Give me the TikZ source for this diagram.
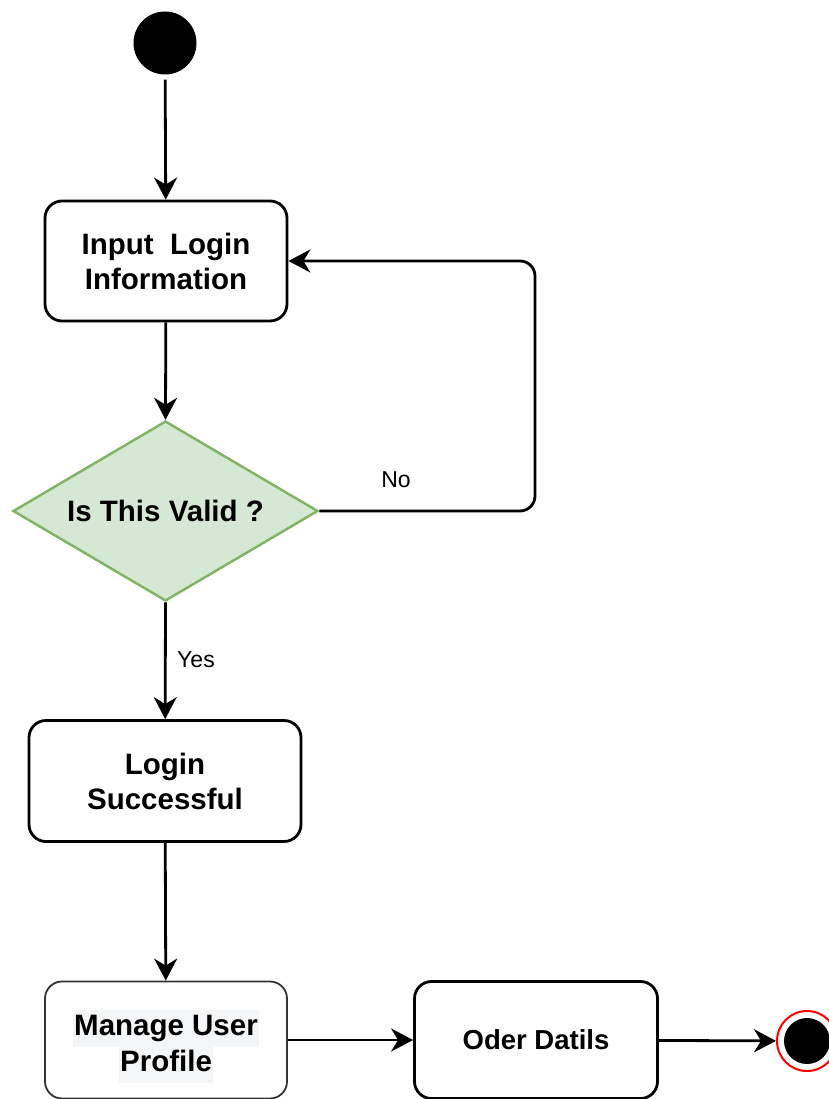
\documentclass[tikz,border=0pt]{standalone}
\usepackage{fontspec}
\setmainfont{Liberation Sans}
\usetikzlibrary{arrows.meta,shapes.geometric}
\definecolor{decfill}{HTML}{D5E8D4}
\definecolor{decedge}{HTML}{82B366}
\definecolor{hilite}{HTML}{F4F5F7}
\definecolor{inkgray}{HTML}{333333}

% one line of text with a faint highlight behind it
\newcommand{\hl}[1]{{\setlength{\fboxsep}{1pt}\colorbox{hilite}{\strut #1}}}

\begin{document}
\begin{tikzpicture}[x=1pt,y=-1pt,
  every node/.style={font=\fontsize{29.5}{35}\selectfont\bfseries, text=black},
  action/.style={draw, line width=2.8pt, rounded corners=17pt, align=center,
    inner sep=0pt},
  decision/.style={diamond, aspect=1.694, draw=decedge, fill=decfill, line width=2.5pt,
    inner sep=0pt, minimum width=305pt, minimum height=180pt},
  flow/.style={line width=2.8pt, -{Stealth[length=22pt, width=23pt, inset=7pt]}},
  guard/.style={font=\fontsize{23}{28}\selectfont}
]
\useasboundingbox (0,0) rectangle (828,1099);

% nodes
\node[circle, fill=black, minimum size=63pt, inner sep=0pt] (start) at (165,43) {};
\node[action, minimum width=242pt, minimum height=120pt] (input) at (166,261)
  {Input\ \ Login\\Information};
\node[decision] (valid) at (165.5,511) {Is This Valid ?};
\node[action, minimum width=272pt, minimum height=121pt] (ok) at (165,781)
  {Login\\Successful};
\node[action, draw=inkgray, line width=1.8pt, minimum width=242pt, minimum height=117pt]
  (profile) at (166,1040) {};
\node (profiletext) at ([yshift=-6pt]profile.center)
  {\setlength{\lineskip}{0pt}\shortstack{\hl{Manage User}\\[-4pt]\hl{Profile}}};
\node[action, minimum width=243pt, minimum height=117pt,
  font=\fontsize{27.5}{35}\selectfont\bfseries] (order) at (536,1040) {Oder Datils};
\node[circle, draw=red, line width=2pt, fill=white, minimum size=60pt, inner sep=0pt]
  (stop) at (807,1041) {};
\node[circle, fill=black, minimum size=46pt, inner sep=0pt] (stopdot) at (stop.center) {};

\coordinate (loop) at (535,261);

% connectors
\draw[flow, shorten <=5pt] (start) -- (input);
\draw[flow] (input) -- (valid.north);
\draw[flow, rounded corners=15pt] (valid.east) -| (loop) -- (input.east);
\draw[flow] (valid.south) -- (ok);
\draw[flow] (ok) -- (profile);
\draw[flow] (profile) -- (order);
\draw[flow] (order) -- (stop);

% guard labels
\node[guard] (no) at (396,480) {No};
\node[guard] (yes) at (196,660) {Yes};
\end{tikzpicture}
\end{document}
